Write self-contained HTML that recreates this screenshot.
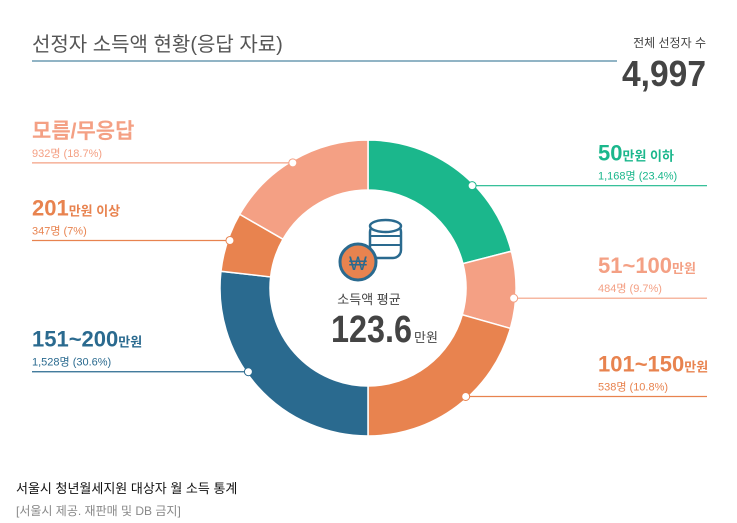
<!DOCTYPE html>
<html><head><meta charset="utf-8"><style>
body{margin:0;width:737px;height:518px;background:#fff;overflow:hidden;font-family:"Liberation Sans","Noto Sans CJK KR",sans-serif}
svg text{font-family:"Liberation Sans","Noto Sans CJK KR",sans-serif}
</style></head><body>
<svg id="c" width="737" height="518">
<text x="32" y="51" font-size="20" fill="#555">선정자 소득액 현황(응답 자료)</text>
<line x1="32" y1="61" x2="617" y2="61" stroke="#6d9cb2" stroke-width="1.5"/>
<text x="706" y="47" font-size="12" fill="#444" text-anchor="end">전체 선정자 수</text>
<text x="706" y="86" font-size="36" font-weight="bold" fill="#444" text-anchor="end" textLength="84" lengthAdjust="spacingAndGlyphs">4,997</text>
<g id="slices"></g>
<g id="labels"></g>
<g>
<rect x="370" y="224" width="31" height="34" rx="8" fill="#fff" stroke="#2a6a8f" stroke-width="2.5"/>
<ellipse cx="385.5" cy="226" rx="15.5" ry="6" fill="#fff" stroke="#2a6a8f" stroke-width="2.5"/>
<line x1="370" y1="236" x2="401" y2="236" stroke="#2a6a8f" stroke-width="2"/>
<line x1="370" y1="245" x2="401" y2="245" stroke="#2a6a8f" stroke-width="2"/>
<circle cx="358" cy="262" r="18" fill="#e8834f" stroke="#2a6a8f" stroke-width="3"/>
<text x="358" y="270" font-size="19" fill="#2a6a8f" text-anchor="middle">₩</text>
</g>
<text x="369" y="304" font-size="13" fill="#444" text-anchor="middle">소득액 평균</text>
<text x="331" y="342" font-size="38" font-weight="bold" fill="#444" textLength="81" lengthAdjust="spacingAndGlyphs">123.6</text>
<text x="414" y="342" font-size="13" fill="#444">만원</text>
<text x="16" y="493" font-size="13" fill="#111">서울시 청년월세지원 대상자 월 소득 통계</text>
<text x="16" y="515" font-size="12" fill="#888">[서울시 제공. 재판매 및 DB 금지]</text>
</svg>
<script>
const categories=["50만원 이하","51~100만원","101~150만원","151~200만원","201만원 이상","모름/무응답"];
const counts=["1,168명","484명","538명","1,528명","347명","932명"];
const pctLabels=["23.4%","9.7%","10.8%","30.6%","7%","18.7%"];
// drawn arc shares (percent of circle)
const shares=[21,8.4,20.6,26.8,6.5,16.7];
const colors=["#1bb78c","#f4a084","#e8834f","#2a6a8f","#e8834f","#f4a084"];
const cx=368,cy=288,R=148,r=98,NS="http://www.w3.org/2000/svg";
// layout: leader-dot angle (degrees from top)
const dotAngles=[45.5,94,138,235,289,329];
const total=shares.reduce((a,b)=>a+b,0);
function pt(a,rad){return [cx+rad*Math.sin(a),cy-rad*Math.cos(a)];}
const g=document.getElementById('slices');
let acc=0;
shares.forEach((v,i)=>{
 const a0=acc/total*2*Math.PI;acc+=v;const a1=acc/total*2*Math.PI;
 const big=a1-a0>Math.PI?1:0;
 const [x0,y0]=pt(a0,R),[x1,y1]=pt(a1,R),[x2,y2]=pt(a1,r),[x3,y3]=pt(a0,r);
 const p=document.createElementNS(NS,'path');
 p.setAttribute('d',`M${x0},${y0}A${R},${R} 0 ${big} 1 ${x1},${y1}L${x2},${y2}A${r},${r} 0 ${big} 0 ${x3},${y3}Z`);
 p.setAttribute('fill',colors[i]);p.setAttribute('stroke','#fff');p.setAttribute('stroke-width','1.5');
 
 
 g.appendChild(p);
});
const L=document.getElementById('labels');
const labelColors=["#1bb78c","#f4a084","#e8834f","#2a6a8f","#e8834f","#f4a084"];
dotAngles.forEach((deg,i)=>{
 const m=deg*Math.PI/180;
 const right=Math.sin(m)>0;
 const [dx,dy]=pt(m,R-2);
 const col=labelColors[i];
 const ln=document.createElementNS(NS,'line');
 ln.setAttribute('x1',dx);ln.setAttribute('y1',dy);ln.setAttribute('x2',right?707:32);ln.setAttribute('y2',dy);
 ln.setAttribute('stroke',col);ln.setAttribute('stroke-width','1.2');
 
 
 L.appendChild(ln);
 const c=document.createElementNS(NS,'circle');
 c.setAttribute('cx',dx);c.setAttribute('cy',dy);c.setAttribute('r',4);c.setAttribute('fill','#fff');c.setAttribute('stroke',col);
 
 
 L.appendChild(c);
 const x=right?598:32;
 const name=categories[i];
 const mm=name.match(/^([\d~]+)(.*)$/);
 const t=document.createElementNS(NS,'text');
 t.setAttribute('x',x);t.setAttribute('y',dy-25);t.setAttribute('fill',col);t.setAttribute('font-weight','bold');
 if(mm){t.innerHTML=`<tspan font-size="22">${mm[1]}</tspan><tspan font-size="13">${mm[2]}</tspan>`;}
 else{t.setAttribute('font-size','21');t.textContent=name;}
 
 
 L.appendChild(t);
 const s=document.createElementNS(NS,'text');
 s.setAttribute('x',x);s.setAttribute('y',dy-6);s.setAttribute('fill',col);s.setAttribute('font-size','11');
 s.textContent=counts[i]+' ('+pctLabels[i]+')';
 
 
 L.appendChild(s);
});
</script>
</body></html>
